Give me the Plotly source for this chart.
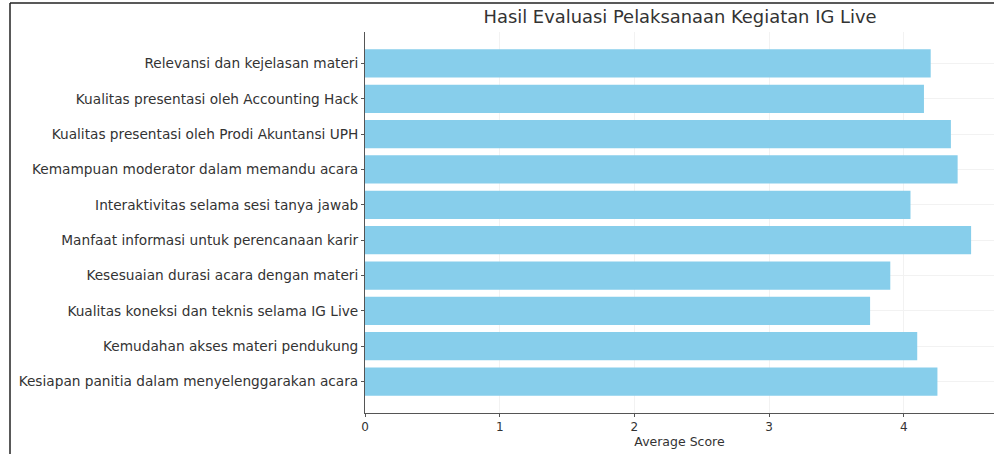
import plotly.graph_objects as go

categories = [
    "Relevansi dan kejelasan materi",
    "Kualitas presentasi oleh Accounting Hack",
    "Kualitas presentasi oleh Prodi Akuntansi UPH",
    "Kemampuan moderator dalam memandu acara",
    "Interaktivitas selama sesi tanya jawab",
    "Manfaat informasi untuk perencanaan karir",
    "Kesesuaian durasi acara dengan materi",
    "Kualitas koneksi dan teknis selama IG Live",
    "Kemudahan akses materi pendukung",
    "Kesiapan panitia dalam menyelenggarakan acara",
]
scores = [4.20, 4.15, 4.35, 4.40, 4.05, 4.50, 3.90, 3.75, 4.10, 4.25]
x_ticks = [0, 1, 2, 3, 4]

W, H = 994, 454
ML, MR, MT, MB = 365, 0, 32, 41
PW, PH = W - ML - MR, H - MT - MB

fig = go.Figure(go.Bar(
    x=scores, y=categories, orientation="h",
    marker=dict(color="#87CEEB", line=dict(width=0)),
    width=0.8,
))

fig.update_layout(
    width=W, height=H,
    margin=dict(l=ML, r=MR, t=MT, b=MB, pad=0),
    paper_bgcolor="white", plot_bgcolor="white",
    font=dict(family="DejaVu Sans", size=13, color="#333333"),
    title=dict(text="Hasil Evaluasi Pelaksanaan Kegiatan IG Live",
               x=680 / W, xanchor="center", y=1 - 17 / H, yanchor="middle",
               font=dict(size=17.9, color="#333333")),
    showlegend=False,
)
fig.update_xaxes(
    range=[0, 4.67], tickvals=x_ticks, ticks="outside", ticklen=3, tickcolor="#555",
    showline=True, linecolor="#555", linewidth=1,
    showgrid=True, gridcolor="#f2f2f2", zeroline=False,
    title=dict(text="Average Score", font=dict(size=12.5), standoff=3),
    tickfont=dict(size=12), automargin=False,
)
fig.update_yaxes(
    categoryorder="array", categoryarray=categories,
    range=[9.89, -0.89], ticks="outside", ticklen=3, tickcolor="#555",
    showline=True, linecolor="#555", linewidth=1,
    showgrid=True, gridcolor="#f2f2f2", zeroline=False,
    tickfont=dict(size=13.7), automargin=False,
)

# thin frame of the original screenshot (left and top edges)
fx = (10 - ML) / PW
fy = 1 + (MT - 3) / PH
fig.add_shape(type="line", xref="paper", yref="paper",
              x0=fx, x1=fx, y0=-MB / PH, y1=fy,
              line=dict(color="#222", width=1.5))
fig.add_shape(type="line", xref="paper", yref="paper",
              x0=fx, x1=1, y0=fy, y1=fy,
              line=dict(color="#222", width=1.5))

fig.write_html("out.html", config={"displayModeBar": False},
               post_script="document.body.style.margin='0';")
